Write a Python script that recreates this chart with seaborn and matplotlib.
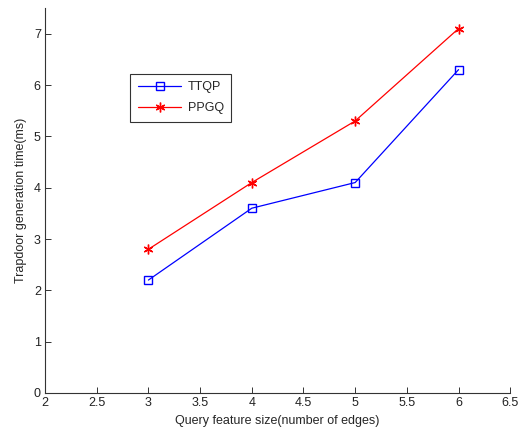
import pandas as pd
import matplotlib
matplotlib.use('Agg')
import matplotlib.pyplot as plt
import seaborn as sb

# Data
edges = [3, 4, 5, 6]
ttqp = [2.2, 3.6, 4.1, 6.3]
ppgq = [2.8, 4.1, 5.3, 7.1]

df = pd.DataFrame({'edges': edges * 2,
                   'time': ttqp + ppgq,
                   'scheme': ['TTQP'] * 4 + ['PPGQ'] * 4})

sb.set_style('white')
plt.rcParams['font.family'] = ['Liberation Sans', 'DejaVu Sans']

fig = plt.figure(figsize=(5.21, 4.34), dpi=100)
ax = fig.add_axes([0.0864, 0.0945, 0.893, 0.887])

sb.lineplot(data=df, x='edges', y='time', hue='scheme',
            palette={'TTQP': '#0000ff', 'PPGQ': '#ff0000'},
            marker='s', linewidth=0.9, ax=ax, legend=False)

# MATLAB-like markers: hollow square and asterisk
marks = {'TTQP': ('s', 6), 'PPGQ': ((6, 2, 0), 7)}
for line, name in zip(ax.get_lines(), ['TTQP', 'PPGQ']):
    line.set_marker(marks[name][0])
    line.set_markersize(marks[name][1])
    line.set_markerfacecolor('none')
    line.set_markeredgecolor(line.get_color())
    line.set_markeredgewidth(1.0)

ax.set_xlim(2, 6.5)
ax.set_ylim(0, 7.5)
ax.set_xticks([2, 2.5, 3, 3.5, 4, 4.5, 5, 5.5, 6, 6.5])
ax.set_xticklabels(['2', '2.5', '3', '3.5', '4', '4.5', '5', '5.5', '6', '6.5'])
ax.set_yticks(range(0, 8))

for s in ['top', 'right']:
    ax.spines[s].set_visible(False)
for s in ['left', 'bottom']:
    ax.spines[s].set_color('#333333')
    ax.spines[s].set_linewidth(0.8)

ax.tick_params(direction='in', length=4, width=0.7, labelsize=9,
               colors='#333333', labelcolor='#222222', pad=3,
               left=True, bottom=True)
ax.set_xlabel('Query feature size(number of edges)', fontsize=9, labelpad=4)
ax.set_ylabel('Trapdoor generation time(ms)', fontsize=9, labelpad=5)

leg = ax.legend(handles=ax.get_lines(), labels=['TTQP', 'PPGQ'],
                loc='upper left', bbox_to_anchor=(0.183, 0.829), fontsize=9,
                frameon=True, fancybox=False, edgecolor='black',
                handlelength=3.5, borderpad=0.6, labelspacing=0.7,
                handletextpad=0.5, borderaxespad=0)
leg.get_frame().set_linewidth(0.8)

plt.savefig('out.png', dpi=100)
